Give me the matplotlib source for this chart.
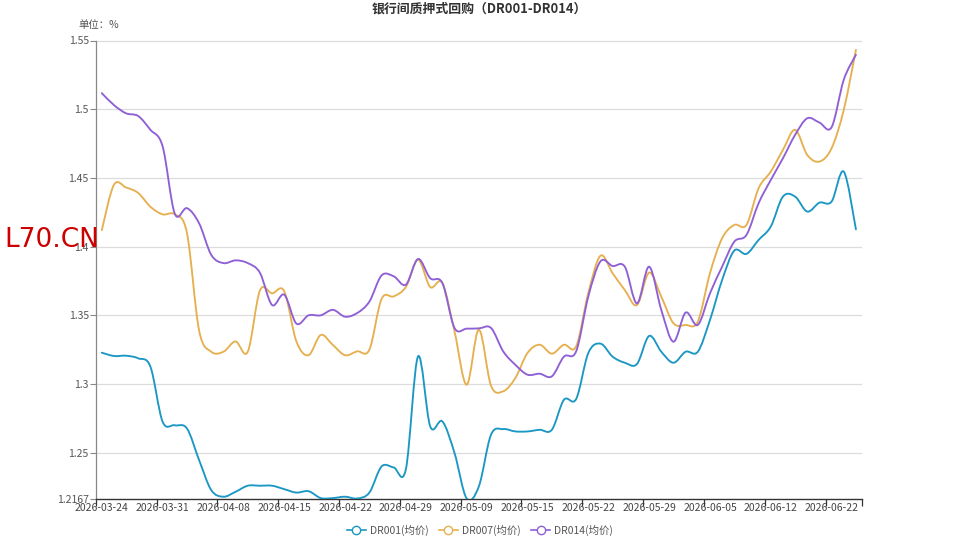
import matplotlib
matplotlib.use("Agg")
import matplotlib.pyplot as plt
import numpy as np
from matplotlib.path import Path
from matplotlib.patches import PathPatch
from matplotlib.lines import Line2D

plt.rcParams['font.family'] = ['Noto Sans CJK SC', 'DejaVu Sans']

dates = ["2026-03-24", "2026-03-25", "2026-03-26", "2026-03-27", "2026-03-30",
         "2026-03-31", "2026-04-01", "2026-04-02", "2026-04-03", "2026-04-07",
         "2026-04-08", "2026-04-09", "2026-04-10", "2026-04-13", "2026-04-14",
         "2026-04-15", "2026-04-16", "2026-04-17", "2026-04-20", "2026-04-21",
         "2026-04-22", "2026-04-23", "2026-04-24", "2026-04-27", "2026-04-28",
         "2026-04-29", "2026-04-30", "2026-05-06", "2026-05-07", "2026-05-08",
         "2026-05-09", "2026-05-11", "2026-05-12", "2026-05-13", "2026-05-14",
         "2026-05-15", "2026-05-18", "2026-05-19", "2026-05-20", "2026-05-21",
         "2026-05-22", "2026-05-25", "2026-05-26", "2026-05-27", "2026-05-28",
         "2026-05-29", "2026-06-01", "2026-06-02", "2026-06-03", "2026-06-04",
         "2026-06-05", "2026-06-08", "2026-06-09", "2026-06-10", "2026-06-11",
         "2026-06-12", "2026-06-15", "2026-06-16", "2026-06-17", "2026-06-18",
         "2026-06-22", "2026-06-23", "2026-06-24"]

dr001 = [1.3228, 1.3204, 1.3206, 1.3187, 1.3126, 1.2726, 1.2700, 1.2677, 1.2447, 1.2228,
         1.2180, 1.2216, 1.2260, 1.2260, 1.2260, 1.2235, 1.2210, 1.2220, 1.2170, 1.2170,
         1.2180, 1.2167, 1.2210, 1.2400, 1.2393, 1.2380, 1.3201, 1.2692, 1.2728, 1.2498,
         1.2167, 1.2255, 1.2631, 1.2672, 1.2655, 1.2655, 1.2667, 1.2667, 1.2886, 1.2891,
         1.3226, 1.3294, 1.3199, 1.3155, 1.3146, 1.3350, 1.3235, 1.3155, 1.3235, 1.3235,
         1.3466, 1.3757, 1.3971, 1.3947, 1.4049, 1.4146, 1.4364, 1.4364, 1.4255, 1.4320,
         1.4328, 1.4546, 1.4126]

dr007 = [1.4120, 1.4450, 1.4430, 1.4390, 1.4290, 1.4235, 1.4235, 1.4100, 1.3390, 1.3235,
         1.3235, 1.3310, 1.3235, 1.3680, 1.3660, 1.3675, 1.3310, 1.3210, 1.3357, 1.3284,
         1.3210, 1.3238, 1.3250, 1.3619, 1.3638, 1.3706, 1.3905, 1.3706, 1.3735, 1.3383,
         1.2995, 1.3396, 1.2988, 1.2947, 1.3044, 1.3226, 1.3286, 1.3221, 1.3286, 1.3274,
         1.3663, 1.3934, 1.3806, 1.3684, 1.3575, 1.3811, 1.3636, 1.3442, 1.3430, 1.3454,
         1.3806, 1.4061, 1.4158, 1.4158, 1.4425, 1.4546, 1.4704, 1.4850, 1.4667, 1.4619,
         1.4716, 1.4995, 1.5432]

dr014 = [1.5117, 1.5030, 1.4970, 1.4950, 1.4850, 1.4730, 1.4240, 1.4280, 1.4170, 1.3940,
         1.3880, 1.3900, 1.3880, 1.3810, 1.3575, 1.3650, 1.3440, 1.3500, 1.3500, 1.3540,
         1.3490, 1.3517, 1.3600, 1.3790, 1.3784, 1.3723, 1.3910, 1.3770, 1.3735, 1.3408,
         1.3403, 1.3405, 1.3408, 1.3238, 1.3140, 1.3068, 1.3075, 1.3056, 1.3200, 1.3238,
         1.3638, 1.3893, 1.3859, 1.3854, 1.3587, 1.3854, 1.3539, 1.3308, 1.3520, 1.3430,
         1.3660, 1.3854, 1.4036, 1.4085, 1.4316, 1.4485, 1.4643, 1.4813, 1.4934, 1.4903,
         1.4869, 1.5214, 1.5396]

series = [("DR001(均价)", dr001, "#1b97c4"),
          ("DR007(均价)", dr007, "#e6b04f"),
          ("DR014(均价)", dr014, "#8f5fd6")]

y_ticks = [1.2167, 1.25, 1.3, 1.35, 1.4, 1.45, 1.5, 1.55]
y_tick_labels = ["1.2167", "1.25", "1.3", "1.35", "1.4", "1.45", "1.5", "1.55"]


def smooth_path(xs, ys, k=1.0 / 6.0):
    xs = np.asarray(xs, float)
    ys = np.asarray(ys, float)
    n = len(xs)
    verts = [(xs[0], ys[0])]
    codes = [Path.MOVETO]
    for i in range(n - 1):
        p0 = np.array([xs[max(i - 1, 0)], ys[max(i - 1, 0)]])
        p1 = np.array([xs[i], ys[i]])
        p2 = np.array([xs[i + 1], ys[i + 1]])
        p3 = np.array([xs[min(i + 2, n - 1)], ys[min(i + 2, n - 1)]])
        c1 = p1 + (p2 - p0) * k
        c2 = p2 - (p3 - p1) * k
        verts += [tuple(c1), tuple(c2), tuple(p2)]
        codes += [Path.CURVE4, Path.CURVE4, Path.CURVE4]
    return Path(verts, codes)


fig = plt.figure(figsize=(9.58, 5.39), dpi=100)
ax = fig.add_axes([95.7 / 958, 1 - 498.5 / 539, (862 - 95.7) / 958, (498.5 - 40.5) / 539])

x = np.arange(len(dates))
for name, vals, col in series:
    p = smooth_path(x, vals)
    patch = PathPatch(p, facecolor="none", edgecolor=col, lw=1.35, zorder=3,
                      capstyle="round", joinstyle="round")
    patch.set_clip_on(True)
    ax.add_patch(patch)

ax.set_xlim(-0.5, len(dates) - 0.5)
ax.set_ylim(1.2167, 1.55)

# grid
for yv in y_ticks[1:]:
    ax.axhline(yv, color="#dcdcdc", lw=0.9, zorder=1)

ax.set_yticks(y_ticks)
ax.set_yticklabels(y_tick_labels)
ax.tick_params(axis="y", length=4, width=0.8, color="#888888", labelsize=7.5,
               labelcolor="#555555", pad=1)

label_idx = list(range(0, len(dates), 5))
ax.set_xticks(label_idx)
ax.set_xticklabels([dates[i] for i in label_idx])
ax.tick_params(axis="x", length=0, labelsize=7.5, labelcolor="#444444", pad=3)
bounds = [i - 0.5 for i in label_idx] + [len(dates) - 0.5]
ax.set_xticks(bounds, minor=True)
ax.tick_params(axis="x", which="minor", length=5, width=0.9, color="#333333")

for s in ["top", "right"]:
    ax.spines[s].set_visible(False)
ax.spines["left"].set_color("#888888")
ax.spines["left"].set_linewidth(0.9)
ax.spines["bottom"].set_color("#333333")
ax.spines["bottom"].set_linewidth(1.0)

fig.text(479 / 958, 1 - 9 / 539, "银行间质押式回购（DR001-DR014）", ha="center", va="center",
         fontsize=9.3, fontweight="bold", color="#333333")
fig.text(78 / 958, 1 - 25 / 539, "单位：%", ha="left", va="center", fontsize=7.5,
         color="#555555")
fig.text(4 / 958, 1 - 240 / 539, "L70.CN", ha="left", va="center", fontsize=19,
         color="#cc0000", family=["DejaVu Sans"])

handles = [Line2D([0], [0], color=c, lw=1.2, marker="o", markersize=6,
                  markerfacecolor="white", markeredgecolor=c, markeredgewidth=1.0)
           for _, _, c in series]
fig.legend(handles, [n for n, _, _ in series], loc="center", ncol=3,
           bbox_to_anchor=(480 / 958, 1 - 530 / 539), frameon=False, fontsize=7.5,
           handlelength=1.8, handletextpad=0.4, columnspacing=1.0, labelcolor="#555555")

fig.savefig("out.png", dpi=100)
